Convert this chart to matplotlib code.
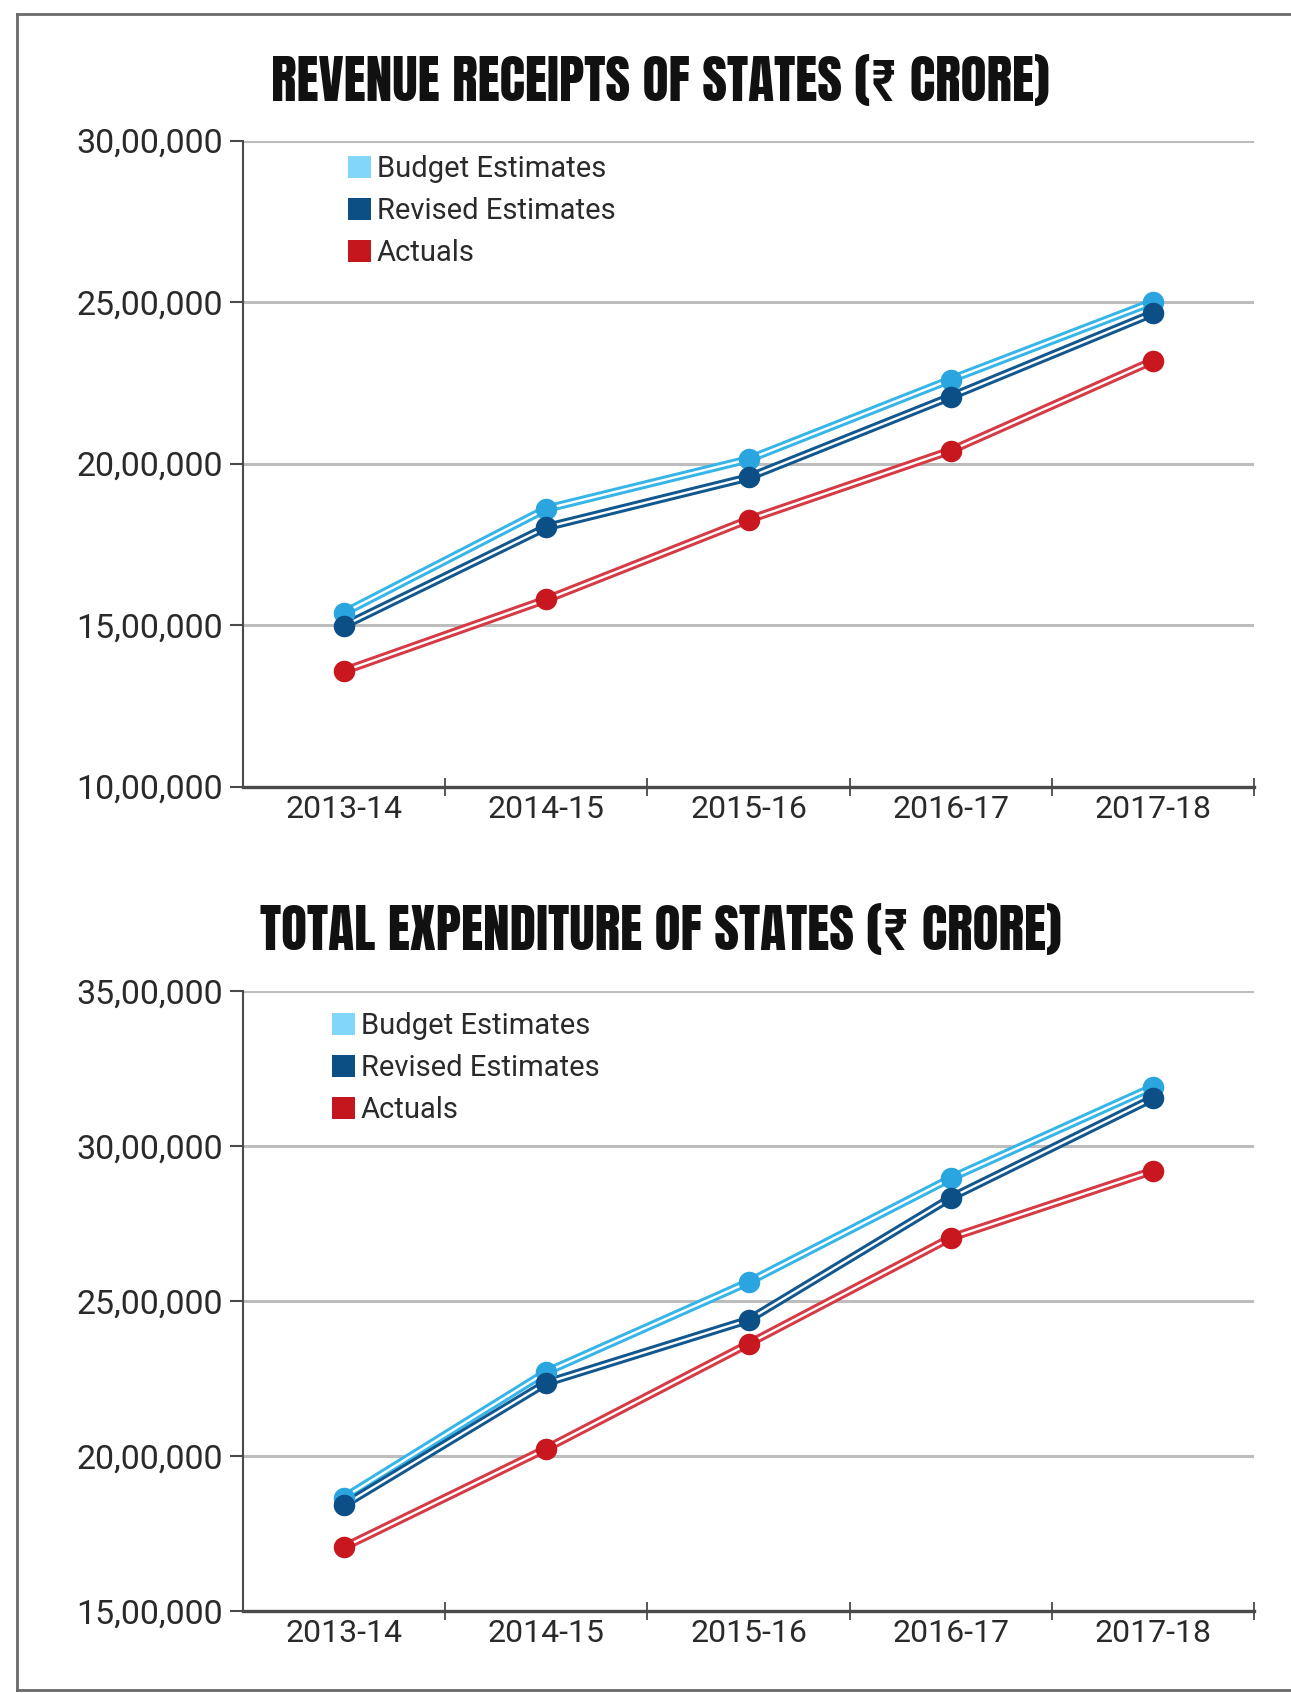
import matplotlib
matplotlib.use("Agg")
import matplotlib.pyplot as plt
from matplotlib.lines import Line2D
from matplotlib.patches import Patch

# data, in Rs crore
years = ["2013-14", "2014-15", "2015-16", "2016-17", "2017-18"]
series = ["Budget Estimates", "Revised Estimates", "Actuals"]

rev_budget  = [1538000, 1860000, 2013000, 2260000, 2500000]
rev_revised = [1498000, 1803000, 1957000, 2207000, 2465000]
rev_actual  = [1358000, 1579000, 1826000, 2040000, 2318000]

exp_budget  = [1866000, 2271000, 2561000, 2896000, 3190000]
exp_revised = [1842000, 2236000, 2439000, 2833000, 3154000]
exp_actual  = [1706000, 2024000, 2362000, 2704000, 2920000]

rev_ticks = [1000000, 1500000, 2000000, 2500000, 3000000]
rev_tick_labels = ["10,00,000", "15,00,000", "20,00,000", "25,00,000", "30,00,000"]
exp_ticks = [1500000, 2000000, 2500000, 3000000, 3500000]
exp_tick_labels = ["15,00,000", "20,00,000", "25,00,000", "30,00,000", "35,00,000"]

LINE_C   = ["#36b6e8", "#12588f", "#d63a44"]
MARK_C   = ["#2aa5df", "#0b4f86", "#c8171f"]
LEGEND_C = ["#82d6f7", "#0b4f85", "#c4161c"]
TEXT = "#2a2a2a"
GRID = "#bdbdbd"
AXIS = "#4a4a4a"

TICK_FONT = ["Roboto", "DejaVu Sans"]
TITLE_FONT = ["Anton", "DejaVu Sans"]

W, H = 1291, 1693
fig = plt.figure(figsize=(W / 100, H / 100), dpi=100, facecolor="white")


def panel(rect, values, ticks, tick_labels, title, title_xy, leg_anchor):
    ax = fig.add_axes(rect)
    x = list(range(len(years)))

    for vals, lc, mc in zip(values, LINE_C, MARK_C):
        ax.plot(x, vals, color=lc, lw=6.0, solid_capstyle="round", zorder=3)
        ax.plot(x, vals, color="white", lw=1.7, zorder=3)
        ax.plot(x, vals, ls="none", marker="o", ms=15.5, color=mc,
                markeredgewidth=0, zorder=4)

    ax.set_xlim(-0.5, 4.5)
    ax.set_ylim(ticks[0], ticks[-1])

    ax.set_yticks(ticks)
    ax.set_yticklabels(tick_labels, family=TICK_FONT, fontsize=24.5, color=TEXT)
    ax.set_xticks(x)
    ax.set_xticklabels(years, family=TICK_FONT, fontsize=23, color=TEXT)
    ax.set_xticks([i + 0.5 for i in x], minor=True)

    ax.tick_params(axis="x", which="major", length=0, pad=6)
    ax.tick_params(axis="x", which="minor", direction="inout", length=13,
                   width=1.3, color=AXIS)
    ax.tick_params(axis="y", direction="out", length=9.5, width=1.5,
                   color=AXIS, pad=5)

    ax.yaxis.grid(True, color=GRID, lw=2.2)
    ax.set_axisbelow(True)
    for s in ["top", "right"]:
        ax.spines[s].set_visible(False)
    ax.spines["left"].set_color(AXIS)
    ax.spines["left"].set_linewidth(1.5)
    ax.spines["bottom"].set_color(AXIS)
    ax.spines["bottom"].set_linewidth(2.4)
    ax.spines["bottom"].set_zorder(5)

    handles = [Patch(facecolor=c, edgecolor="none") for c in LEGEND_C]
    ax.legend(handles, series, loc="upper left", bbox_to_anchor=leg_anchor,
              frameon=False, borderpad=0, borderaxespad=0,
              handlelength=0.78, handleheight=0.78, handletextpad=0.2,
              labelspacing=0.48,
              prop={"family": TICK_FONT, "size": 21}, labelcolor=TEXT)

    fig.text(title_xy[0] / W, 1 - title_xy[1] / H, title,
             family=TITLE_FONT, fontsize=38.5,
             color="#111111", ha="center", va="center")
    return ax


panel([243 / W, 1 - 786.5 / H, 1011 / W, 646 / H],
      [rev_budget, rev_revised, rev_actual], rev_ticks, rev_tick_labels,
      "REVENUE RECEIPTS OF STATES (\u20b9 CRORE)", (660, 81), (0.104, 0.978))

panel([243 / W, 1 - 1611 / H, 1011 / W, 620 / H],
      [exp_budget, exp_revised, exp_actual], exp_ticks, exp_tick_labels,
      "TOTAL EXPENDITURE OF STATES (\u20b9 CRORE)", (661, 930), (0.088, 0.966))

# page frame
frame = dict(color="#6a6a6a", lw=2.0, transform=fig.transFigure)
fig.add_artist(Line2D([17 / W, 1], [1 - 13.5 / H, 1 - 13.5 / H], **frame))
fig.add_artist(Line2D([17 / W, 17 / W], [1 - 13.5 / H, 1 - 1690 / H], **frame))
fig.add_artist(Line2D([17 / W, 1], [1 - 1690 / H, 1 - 1690 / H], **frame))

fig.savefig("out.png", dpi=100, facecolor="white")
